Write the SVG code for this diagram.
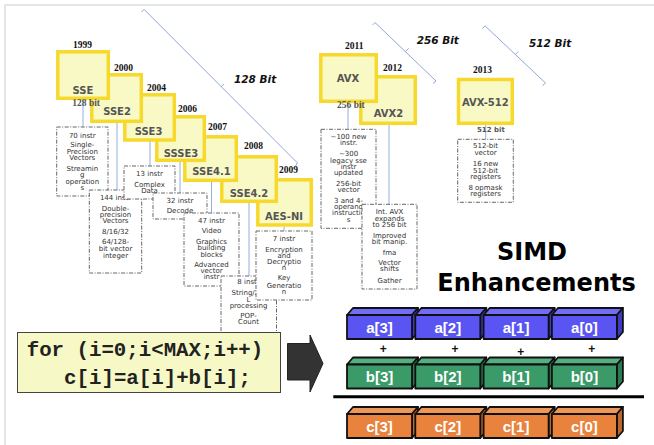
<svg xmlns="http://www.w3.org/2000/svg" width="654" height="445" viewBox="0 0 654 445">
  <style>
    .yb { fill: #f8f9c4; stroke: #f7d92e; stroke-width: 3.5; }
    .db { fill: #ffffff; stroke: #666; stroke-width: 1; stroke-dasharray: 4 1.5 1 1.5; }
    .yr { font-family: "Liberation Serif", serif; font-weight: bold; font-size: 9.5px; fill: #111; }
    .lb { font-family: "DejaVu Sans", Verdana, sans-serif; font-weight: bold; font-size: 10px; fill: #555; text-anchor: middle; }
    .dt { font-family: "DejaVu Sans", Verdana, sans-serif; font-size: 7px; fill: #333; text-anchor: middle; }
    .bit { font-family: "Liberation Serif", serif; font-weight: bold; font-size: 9.5px; fill: #555; }
    .bit2 { font-family: "DejaVu Sans", sans-serif; font-weight: bold; font-size: 7px; fill: #555; }
    .br { font-family: "DejaVu Sans", Verdana, sans-serif; font-weight: bold; font-style: italic; font-size: 10.5px; fill: #111; }
    .brace { fill: none; stroke: #8ea8d8; stroke-width: 1; }
    .conn { stroke: #8eb0e0; stroke-width: 1; }
    .cell { stroke: #111; stroke-width: 1.8; stroke-linejoin: round; }
    .lane-f { fill: var(--front); }
    .lane-t { fill: var(--top); }
    .lane-s { fill: var(--side); }
    .ct { font-family: "Liberation Sans", Arial, sans-serif; font-weight: bold; font-size: 15px; fill: #fff; text-anchor: middle; }
    .plus { font-family: "Liberation Sans", Arial, sans-serif; font-weight: bold; font-size: 12px; fill: #111; text-anchor: middle; }
    .code { font-family: "Liberation Mono", "Courier New", monospace; font-weight: bold; font-size: 20.75px; fill: #222; }
    .a { --front: #5a55f2; --top: #716df6; --side: #3e3ac8; }
    .b { --front: #3a9a68; --top: #55ad80; --side: #2a7a50; }
    .c { --front: #e8823c; --top: #ee9858; --side: #c0662a; }
  </style>

  <!-- page frame -->
  <path d="M5,445 V5 H654" fill="none" stroke="#ddd" stroke-width="1.5"/>

  <!-- width braces -->
  <g id="braces">
    <path class="brace" d="M141.5,12 L144,9.3 L297.5,163 L295.5,166"/>
    <path class="brace" d="M221,87 L224,84"/>
    <text class="br" x="234" y="82.7">128 Bit</text>
    <path class="brace" d="M372.5,25 L375,22.5 L436,81 L433,83.5"/>
    <path class="brace" d="M405.5,51.5 L408.5,48.5"/>
    <text class="br" x="416.7" y="44">256 Bit</text>
    <path class="brace" d="M482.5,28.5 L485,25.8 L545.5,83 L542.5,85.5"/>
    <path class="brace" d="M515.3,54.5 L518.3,51.5"/>
    <text class="br" x="529" y="47.3">512 Bit</text>
  </g>

  <!-- connectors from each extension to its feature list -->
  <g id="connectors">
    <line class="conn" x1="83" y1="100" x2="83" y2="127"/>
    <line class="conn" x1="117" y1="123" x2="117" y2="190"/>
    <line class="conn" x1="150" y1="141" x2="150" y2="166"/>
    <line class="conn" x1="180" y1="162" x2="180" y2="193"/>
    <line class="conn" x1="211.5" y1="182" x2="211.5" y2="213"/>
    <line class="conn" x1="249" y1="203" x2="249" y2="276"/>
    <line class="conn" x1="284" y1="227" x2="284" y2="231"/>
    <line class="conn" x1="348" y1="103" x2="348" y2="129"/>
    <line class="conn" x1="389" y1="125" x2="389" y2="204"/>
    <line class="conn" x1="485.7" y1="125" x2="485.7" y2="139"/>
  </g>

  <!-- feature lists (later ones overlap earlier ones) -->
  <g id="desc-sse">
    <rect class="db" x="56.7" y="127" width="51.3" height="69"/>
    <text class="dt" x="82.3" y="137.5">70 instr</text>
    <text class="dt" x="82.3" y="147.2">Single-</text>
    <text class="dt" x="82.3" y="153.5">Precision</text>
    <text class="dt" x="82.3" y="160.2">Vectors</text>
    <text class="dt" x="82.3" y="170.5">Streamin</text>
    <text class="dt" x="82.3" y="176.5">g</text>
    <text class="dt" x="82.3" y="183.5">operation</text>
    <text class="dt" x="82.3" y="189.5">s</text>
  </g>
  <g id="desc-sse2">
    <rect class="db" x="89.3" y="190" width="52.4" height="83"/>
    <text class="dt" x="115.5" y="199.5">144 instr</text>
    <text class="dt" x="115.5" y="210.5">Double-</text>
    <text class="dt" x="115.5" y="217.2">precision</text>
    <text class="dt" x="115.5" y="223.2">Vectors</text>
    <text class="dt" x="115.5" y="234.2">8/16/32</text>
    <text class="dt" x="115.5" y="244.2">64/128-</text>
    <text class="dt" x="115.5" y="250.5">bit vector</text>
    <text class="dt" x="115.5" y="257.5">integer</text>
  </g>
  <g id="desc-sse3">
    <rect class="db" x="124" y="166" width="51" height="33"/>
    <text class="dt" x="149.5" y="175.5">13 instr</text>
    <text class="dt" x="149.5" y="186.5">Complex</text>
    <text class="dt" x="149.5" y="193.2">Data</text>
  </g>
  <g id="desc-ssse3">
    <rect class="db" x="153" y="193" width="54" height="26"/>
    <text class="dt" x="180" y="202.5">32 instr</text>
    <text class="dt" x="180" y="212.5">Decode</text>
  </g>
  <g id="desc-sse41">
    <rect class="db" x="184" y="213" width="55" height="73"/>
    <text class="dt" x="211.5" y="222.5">47 instr</text>
    <text class="dt" x="211.5" y="233.2">Video</text>
    <text class="dt" x="211.5" y="244.2">Graphics</text>
    <text class="dt" x="211.5" y="250.2">building</text>
    <text class="dt" x="211.5" y="256.5">blocks</text>
    <text class="dt" x="211.5" y="266.8">Advanced</text>
    <text class="dt" x="211.5" y="273.2">vector</text>
    <text class="dt" x="211.5" y="279.2">instr</text>
  </g>
  <g id="desc-sse42">
    <rect class="db" x="221" y="276" width="55.5" height="80"/>
    <text class="dt" x="248.5" y="283.5">8 instr</text>
    <text class="dt" x="248.5" y="294.8">String/XM</text>
    <text class="dt" x="248.5" y="301.8">L</text>
    <text class="dt" x="248.5" y="307.5">processing</text>
    <text class="dt" x="248.5" y="317.5">POP-</text>
    <text class="dt" x="248.5" y="324.2">Count</text>
  </g>
  <g id="desc-aesni">
    <rect class="db" x="256" y="231" width="56" height="69"/>
    <text class="dt" x="284" y="240.5">7 instr</text>
    <text class="dt" x="284" y="251.5">Encryption</text>
    <text class="dt" x="284" y="257.5">and</text>
    <text class="dt" x="284" y="263.5">Decryptio</text>
    <text class="dt" x="284" y="269.8">n</text>
    <text class="dt" x="284" y="280.2">Key</text>
    <text class="dt" x="284" y="287.5">Generatio</text>
    <text class="dt" x="284" y="294.2">n</text>
  </g>
  <g id="desc-avx">
    <rect class="db" x="321" y="129.3" width="55" height="99"/>
    <text class="dt" x="348.5" y="138.5">~100 new</text>
    <text class="dt" x="348.5" y="145.2">instr.</text>
    <text class="dt" x="348.5" y="155.8">~300</text>
    <text class="dt" x="348.5" y="162.5">legacy sse</text>
    <text class="dt" x="348.5" y="168.5">instr</text>
    <text class="dt" x="348.5" y="174.8">updated</text>
    <text class="dt" x="348.5" y="185.5">256-bit</text>
    <text class="dt" x="348.5" y="191.8">vector</text>
    <text class="dt" x="348.5" y="202.5">3 and 4-</text>
    <text class="dt" x="348.5" y="208.5">operand</text>
    <text class="dt" x="348.5" y="214.8">instructio</text>
    <text class="dt" x="348.5" y="221.8">s</text>
  </g>
  <g id="desc-avx2">
    <rect class="db" x="362" y="204.3" width="55" height="84.7"/>
    <text class="dt" x="389.5" y="213.5">Int. AVX</text>
    <text class="dt" x="389.5" y="220.8">expands</text>
    <text class="dt" x="389.5" y="226.8">to 256 bit</text>
    <text class="dt" x="389.5" y="238.2">Improved</text>
    <text class="dt" x="389.5" y="244.2">bit manip.</text>
    <text class="dt" x="389.5" y="254.8">fma</text>
    <text class="dt" x="389.5" y="265.2">Vector</text>
    <text class="dt" x="389.5" y="271.2">shifts</text>
    <text class="dt" x="389.5" y="282.5">Gather</text>
  </g>
  <g id="desc-avx512">
    <rect class="db" x="457.7" y="139.3" width="55.6" height="63"/>
    <text class="dt" x="485.5" y="147.5">512-bit</text>
    <text class="dt" x="485.5" y="155.2">vector</text>
    <text class="dt" x="485.5" y="165.8">16 new</text>
    <text class="dt" x="485.5" y="172.5">512-bit</text>
    <text class="dt" x="485.5" y="178.5">registers</text>
    <text class="dt" x="485.5" y="190.2">8 opmask</text>
    <text class="dt" x="485.5" y="195.8">registers</text>
  </g>

  <!-- extension boxes, newest drawn first so older ones sit on top -->
  <g id="aesni">
    <rect class="yb" x="257.8" y="179.8" width="53.5" height="45.2"/>
    <text class="yr" x="279" y="173">2009</text>
    <text class="lb" x="284" y="220">AES-NI</text>
  </g>
  <g id="sse42">
    <rect class="yb" x="221.8" y="156.8" width="54.5" height="44.5"/>
    <text class="yr" x="244" y="149">2008</text>
    <text class="lb" x="249" y="196.5">SSE4.2</text>
  </g>
  <g id="sse41">
    <rect class="yb" x="184.8" y="136.8" width="51.5" height="43.5"/>
    <text class="yr" x="208" y="130">2007</text>
    <text class="lb" x="211.5" y="175">SSE4.1</text>
  </g>
  <g id="ssse3">
    <rect class="yb" x="156.8" y="116.8" width="47.5" height="43.5"/>
    <text class="yr" x="178" y="111.7">2006</text>
    <text class="lb" x="181" y="156.5">SSSE3</text>
  </g>
  <g id="sse3">
    <rect class="yb" x="124.8" y="94.8" width="49.5" height="45.2"/>
    <text class="yr" x="147" y="90.7">2004</text>
    <text class="lb" x="148.5" y="135">SSE3</text>
  </g>
  <g id="sse2">
    <rect class="yb" x="91.8" y="74.8" width="49.5" height="46.5"/>
    <text class="yr" x="114" y="71">2000</text>
    <text class="lb" x="117" y="115">SSE2</text>
  </g>
  <g id="sse">
    <rect class="yb" x="57.8" y="51.8" width="50.5" height="46.5"/>
    <text class="yr" x="73" y="48">1999</text>
    <text class="lb" x="83" y="94">SSE</text>
    <text class="bit" x="72.3" y="106">128 bit</text>
  </g>
  <g id="avx2">
    <rect class="yb" x="360.8" y="76.8" width="54.5" height="46.5"/>
    <text class="yr" x="383" y="70.7">2012</text>
    <text class="lb" x="388.5" y="117">AVX2</text>
  </g>
  <g id="avx">
    <rect class="yb" x="320.8" y="54.8" width="55.5" height="46.5"/>
    <text class="yr" x="345" y="49">2011</text>
    <text class="lb" x="348" y="82">AVX</text>
    <text class="bit" x="337" y="108">256 bit</text>
  </g>
  <g id="avx512">
    <rect class="yb" x="458.5" y="79.5" width="53.8" height="43.8"/>
    <text class="yr" x="473" y="72.7">2013</text>
    <text class="lb" x="485.3" y="105.5">AVX-512</text>
    <text class="bit2" x="477" y="132">512 bit</text>
  </g>

  <!-- scalar loop -->
  <g id="code">
    <rect x="17.5" y="332.5" width="263" height="60" fill="#f6f9c6" stroke="#444" stroke-width="1"/>
    <text class="code" x="26.7" y="356">for (i=0;i&lt;MAX;i++)</text>
    <text class="code" x="64.1" y="384">c[i]=a[i]+b[i];</text>
  </g>

  <g id="arrow">
    <polygon points="287.5,343.5 310,343.5 310,335 323,363.5 310,392 310,380 287.5,380" fill="#333" stroke="#222" stroke-width="1"/>
  </g>

  <g id="title">
    <text x="532" y="260" font-family="'DejaVu Sans', Verdana, sans-serif" font-weight="bold" font-size="24" text-anchor="middle" fill="#000">SIMD</text>
    <text x="536.5" y="290.5" font-family="'DejaVu Sans', Verdana, sans-serif" font-weight="bold" font-size="24" text-anchor="middle" fill="#000">Enhancements</text>
  </g>

  <!-- one vector lane: top face, right face, front face -->
  <defs>
    <g id="lane">
      <polygon class="cell lane-t" points="0,0 6,-7 71,-7 65,0"/>
      <polygon class="cell lane-s" points="65,0 71,-7 71,17 65,24"/>
      <rect class="cell lane-f" x="0" y="0" width="65" height="24"/>
    </g>
  </defs>

  <g id="vec-a" class="a">
    <use href="#lane" x="347" y="315"/>
    <use href="#lane" x="415.3" y="315"/>
    <use href="#lane" x="483.6" y="315"/>
    <use href="#lane" x="551.9" y="315"/>
    <text class="ct" x="379.5" y="332.5">a[3]</text>
    <text class="ct" x="447.8" y="332.5">a[2]</text>
    <text class="ct" x="516.1" y="332.5">a[1]</text>
    <text class="ct" x="584.4" y="332.5">a[0]</text>
  </g>

  <g id="plus">
    <text class="plus" x="383.3" y="353">+</text>
    <text class="plus" x="455" y="353">+</text>
    <text class="plus" x="520.7" y="356.3">+</text>
    <text class="plus" x="591.7" y="353">+</text>
  </g>

  <g id="vec-b" class="b">
    <use href="#lane" x="347" y="364.5"/>
    <use href="#lane" x="415.3" y="364.5"/>
    <use href="#lane" x="483.6" y="364.5"/>
    <use href="#lane" x="551.9" y="364.5"/>
    <text class="ct" x="379.5" y="382">b[3]</text>
    <text class="ct" x="447.8" y="382">b[2]</text>
    <text class="ct" x="516.1" y="382">b[1]</text>
    <text class="ct" x="584.4" y="382">b[0]</text>
  </g>

  <line x1="333.3" y1="396.7" x2="644" y2="396.7" stroke="#000" stroke-width="3"/>

  <g id="vec-c" class="c">
    <use href="#lane" x="347" y="414"/>
    <use href="#lane" x="415.3" y="414"/>
    <use href="#lane" x="483.6" y="414"/>
    <use href="#lane" x="551.9" y="414"/>
    <text class="ct" x="379.5" y="431.5">c[3]</text>
    <text class="ct" x="447.8" y="431.5">c[2]</text>
    <text class="ct" x="516.1" y="431.5">c[1]</text>
    <text class="ct" x="584.4" y="431.5">c[0]</text>
  </g>
</svg>
